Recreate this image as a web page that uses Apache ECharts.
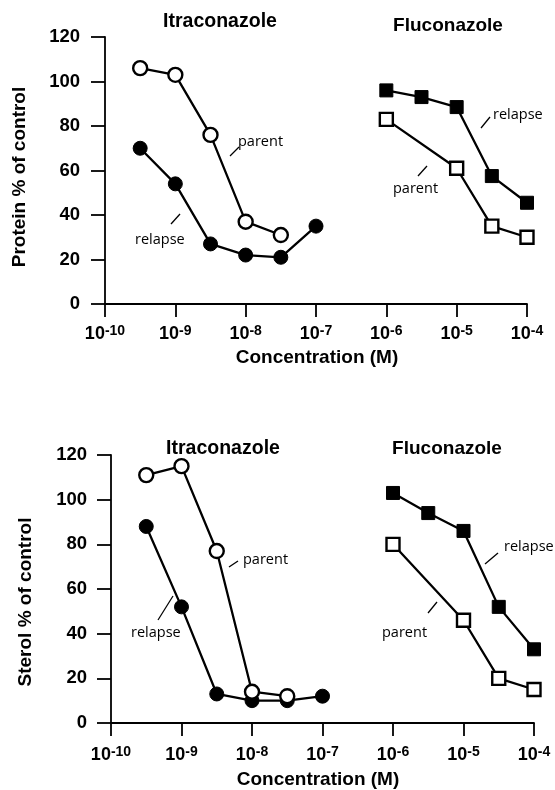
<!DOCTYPE html>
<html><head><meta charset="utf-8">
<script src="https://cdn.jsdelivr.net/npm/echarts@6/dist/echarts.min.js"></script>
<style>html,body{margin:0;padding:0;background:#fff}#c{width:555px;height:790px}</style>
</head><body><div id="c"></div>
<script>
// ---- data (x = log10 concentration in M, y = % of control) ----
const xTickExponents = [-10, -9, -8, -7, -6, -5, -4];
const yTickValues = [0, 20, 40, 60, 80, 100, 120];
const itraConcLogParent = [-9.5, -9, -8.5, -8, -7.5];
const itraConcLogRelapse = [-9.5, -9, -8.5, -8, -7.5, -7];
const flucConcLogRelapse = [-6, -5.5, -5, -4.5, -4];
const flucConcLogParent = [-6, -5, -4.5, -4];
const proteinItraParent = [106, 103, 76, 37, 31];
const proteinItraRelapse = [70, 54, 27, 22, 21, 35];
const proteinFlucRelapse = [96, 93, 88.5, 57.5, 45.5];
const proteinFlucParent = [83, 61, 35, 30];
const sterolItraParent = [111, 115, 77, 14, 12];
const sterolItraRelapse = [88, 52, 13, 10, 10, 12];
const sterolFlucRelapse = [103, 94, 86, 52, 33];
const sterolFlucParent = [80, 46, 20, 15];

const BOLD = '"Liberation Sans", Arial, sans-serif';
const LIGHT = '"Open Sans", "Liberation Sans", sans-serif';
const pairs = (xs, ys) => xs.map((x, i) => [x, ys[i]]);

function xAxis(gridIndex, margin) {
  return {
    type: 'value', gridIndex, min: xTickExponents[0], max: xTickExponents[xTickExponents.length - 1], interval: 1,
    axisLine: { show: true, onZero: false, lineStyle: { color: '#000', width: 1.8 } },
    axisTick: { show: true, inside: false, length: 13, lineStyle: { color: '#000', width: 1.8 } },
    splitLine: { show: false },
    axisLabel: {
      margin,
      formatter: v => '{b|10}{s|' + Math.round(v) + '}',
      rich: {
        b: { fontFamily: BOLD, fontWeight: 'bold', fontSize: 18, lineHeight: 20, color: '#000' },
        s: { fontFamily: BOLD, fontWeight: 'bold', fontSize: 14, lineHeight: 15, verticalAlign: 'top', color: '#000' }
      }
    }
  };
}
function yAxis(gridIndex, margin) {
  return {
    type: 'value', gridIndex, min: yTickValues[0], max: yTickValues[yTickValues.length - 1], interval: 20,
    axisLine: { show: true, onZero: false, lineStyle: { color: '#000', width: 1.8 } },
    axisTick: { show: true, inside: false, length: 14, lineStyle: { color: '#000', width: 1.8 } },
    splitLine: { show: false },
    axisLabel: { margin, fontFamily: BOLD, fontWeight: 'bold', fontSize: 18.5, color: '#000' }
  };
}
function series(idx, data, symbol, filled) {
  return {
    type: 'line', xAxisIndex: idx, yAxisIndex: idx, data,
    symbol, symbolSize: symbol === 'rect' ? 13 : 14, showSymbol: true,
    lineStyle: { color: '#000', width: 2.3 },
    itemStyle: filled ? { color: '#000', borderColor: '#000', borderWidth: 1 } : { color: '#fff', borderColor: '#000', borderWidth: 2.4 },
    emphasis: { disabled: true }, z: filled ? 2 : 3
  };
}
function txt(x, y, text, opts) {
  return { type: 'text', x, y, style: Object.assign({ text, fill: '#000', align: 'center', verticalAlign: 'middle' }, opts || {}) };
}
function bold(x, y, text, size) { return txt(x, y, text, { fontFamily: BOLD, fontWeight: 'bold', fontSize: size }); }
function note(x, y, text) { return txt(x, y, text, { fontFamily: LIGHT, fontSize: 14.5, align: 'left' }); }
function slash(x1, y1, x2, y2) { return { type: 'line', shape: { x1, y1, x2, y2 }, style: { stroke: '#000', lineWidth: 1.3 } }; }

const chart = echarts.init(document.getElementById('c'), null, { renderer: 'canvas' });
chart.setOption({
  animation: false,
  backgroundColor: '#fff',
  grid: [
    { left: 105, top: 37, width: 422, height: 267 },
    { left: 111, top: 455, width: 423, height: 268 }
  ],
  xAxis: [xAxis(0, 20), xAxis(1, 22)],
  yAxis: [yAxis(0, 25), yAxis(1, 24)],
  series: [
    series(0, pairs(itraConcLogRelapse, proteinItraRelapse), 'circle', true),
    series(0, pairs(itraConcLogParent, proteinItraParent), 'circle', false),
    series(0, pairs(flucConcLogRelapse, proteinFlucRelapse), 'rect', true),
    series(0, pairs(flucConcLogParent, proteinFlucParent), 'rect', false),
    series(1, pairs(itraConcLogRelapse, sterolItraRelapse), 'circle', true),
    series(1, pairs(itraConcLogParent, sterolItraParent), 'circle', false),
    series(1, pairs(flucConcLogRelapse, sterolFlucRelapse), 'rect', true),
    series(1, pairs(flucConcLogParent, sterolFlucParent), 'rect', false)
  ],
  graphic: [
    bold(220, 22, 'Itraconazole', 19.5),
    bold(448, 26, 'Fluconazole', 19),
    bold(223, 449, 'Itraconazole', 19.5),
    bold(447, 449, 'Fluconazole', 19),
    bold(317, 358, 'Concentration (M)', 19),
    bold(318, 780, 'Concentration (M)', 19),
    Object.assign(bold(20, 177, 'Protein % of control', 19), { rotation: Math.PI / 2 }),
    Object.assign(bold(26, 602, 'Sterol % of control', 19), { rotation: Math.PI / 2 }),
    note(238, 142, 'parent'), slash(230, 156, 239, 147),
    note(135, 240, 'relapse'), slash(171, 224, 180, 214),
    note(493, 115, 'relapse'), slash(481, 128, 490, 117),
    note(393, 189, 'parent'), slash(418, 176, 427, 166),
    note(243, 560, 'parent'), slash(229, 567, 238, 561),
    note(131, 633, 'relapse'), slash(158, 620, 173, 596),
    note(504, 547, 'relapse'), slash(485, 564, 498, 553),
    note(382, 633, 'parent'), slash(428, 613, 437, 602)
  ]
});
</script></body></html>
